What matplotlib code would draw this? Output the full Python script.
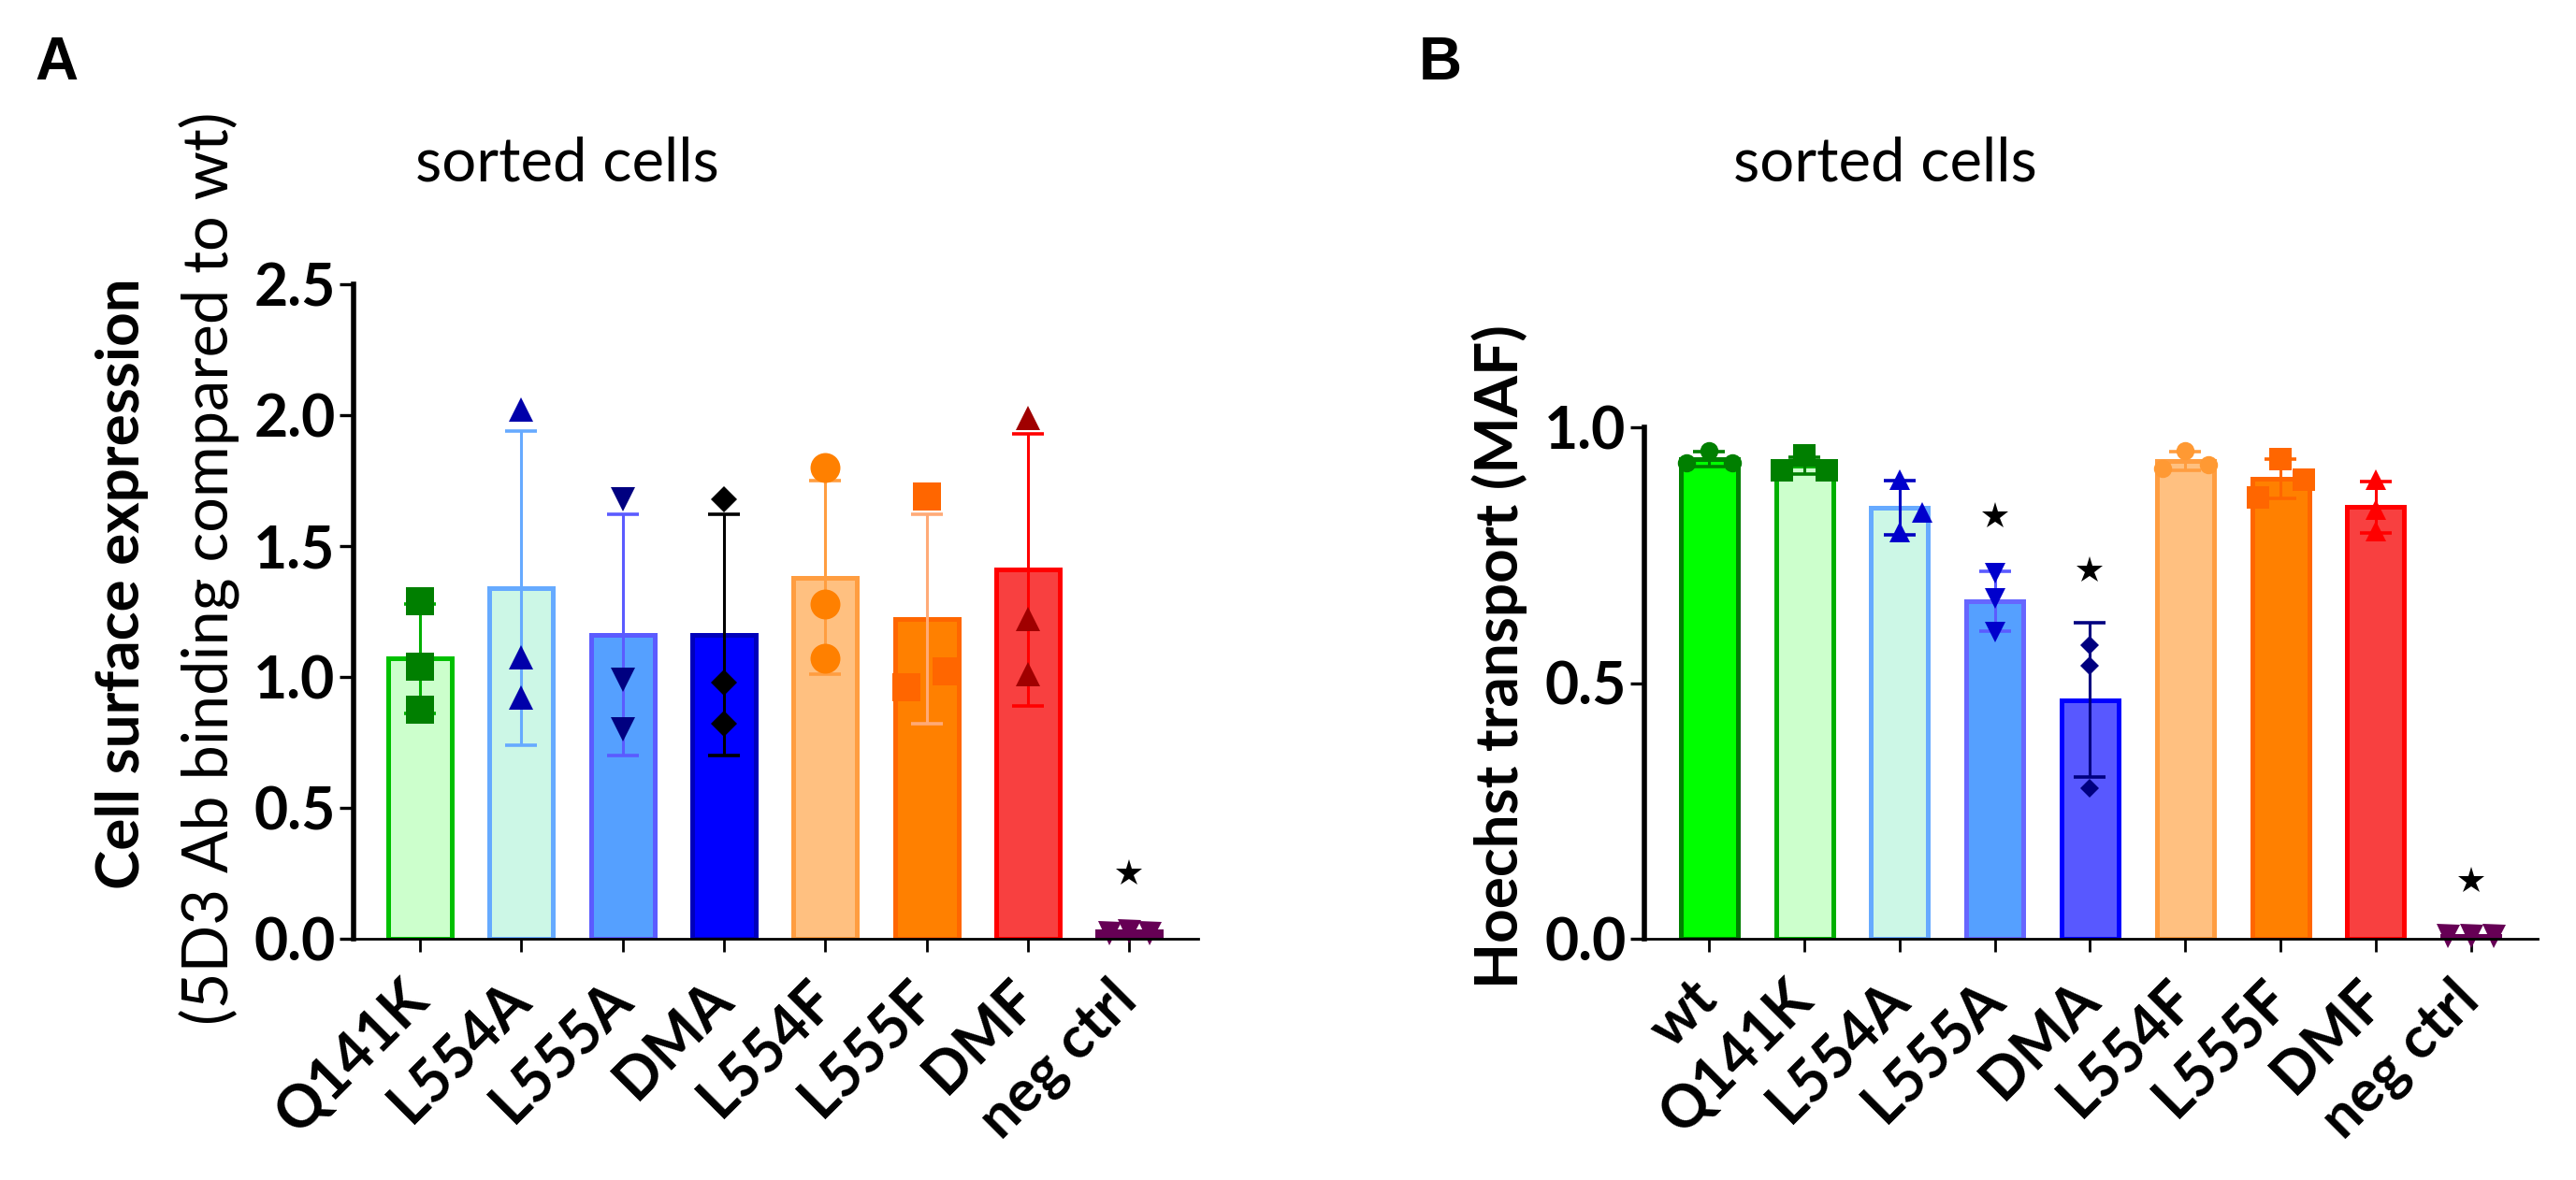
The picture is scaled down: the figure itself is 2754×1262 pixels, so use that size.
import matplotlib
matplotlib.use("Agg")
import matplotlib.pyplot as plt
import numpy as np
from matplotlib.transforms import ScaledTranslation

plt.rcParams['font.family'] = ['Lato', 'DejaVu Sans']

# ---------------- Panel A data ----------------
a_categories = ["Q141K", "L554A", "L555A", "DMA", "L554F", "L555F", "DMF", "neg ctrl"]
a_means = [1.07, 1.34, 1.16, 1.16, 1.38, 1.22, 1.41, 0.03]
a_sd = [0.21, 0.60, 0.46, 0.46, 0.37, 0.40, 0.52, 0.0]
a_points = [
    [1.29, 1.04, 0.875],
    [2.02, 1.075, 0.92],
    [1.68, 0.99, 0.80],
    [1.68, 0.98, 0.82],
    [1.80, 1.28, 1.07],
    [1.69, 1.02, 0.96],
    [1.99, 1.22, 1.01],
    [0.02, 0.03, 0.02],
]
a_star_categories = ["neg ctrl"]
a_star_values = [0.25]
a_yticks = [0.0, 0.5, 1.0, 1.5, 2.0, 2.5]
a_yticklabels = ["0.0", "0.5", "1.0", "1.5", "2.0", "2.5"]

# ---------------- Panel B data ----------------
b_categories = ["wt", "Q141K", "L554A", "L555A", "DMA", "L554F", "L555F", "DMF", "neg ctrl"]
b_means = [0.938, 0.925, 0.842, 0.66, 0.467, 0.934, 0.899, 0.844, 0.005]
b_sd = [0.015, 0.017, 0.053, 0.058, 0.151, 0.019, 0.038, 0.050, 0.0]
b_points = [
    [0.93, 0.955, 0.93],
    [0.915, 0.945, 0.915],
    [0.898, 0.834, 0.795],
    [0.715, 0.665, 0.60],
    [0.574, 0.533, 0.295],
    [0.92, 0.955, 0.927],
    [0.862, 0.937, 0.897],
    [0.897, 0.839, 0.797],
    [0.005, 0.005, 0.005],
]
b_star_categories = ["L555A", "DMA", "neg ctrl"]
b_star_values = [0.827, 0.72, 0.113]
b_yticks = [0.0, 0.5, 1.0]
b_yticklabels = ["0.0", "0.5", "1.0"]

# ---------------- Styles ----------------
a_fill = ["#CCFFCC", "#CCF7E6", "#55A0FF", "#0000FF", "#FFC080", "#FF8000", "#F84040", "#660055"]
a_edge = ["#00C000", "#66AAFF", "#5B5BFF", "#0000BB", "#FF9D40", "#FF6600", "#FF0000", "#660055"]
a_ecol = ["#00B000", "#66AAFF", "#5B5BFF", "#000000", "#FF9D40", "#FFAA77", "#FF0000", "#660055"]
a_mcol = ["#007F00", "#0000AA", "#000080", "#000000", "#FF8000", "#FF6600", "#A00000", "#660055"]
a_mark = ["s", "^", "v", "D", "o", "s", "^", "v"]
a_msize = [21, 19, 19, 14, 23, 21, 19, 18]
a_jit = [[0, 0, 0], [0, 0, 0], [0, 0, 0], [0, 0, 0], [0, 0, 0], [0, 1, -1], [0, 0, 0], [-1, 0, 1]]

b_fill = ["#00FF00", "#CCFFCC", "#CCF7E6", "#55A0FF", "#5858FF", "#FFC080", "#FF8000", "#F84040", "#660055"]
b_edge = ["#008000", "#00B000", "#66AAFF", "#6666FF", "#0000FF", "#FF9D40", "#FF6600", "#FF0000", "#660055"]
b_ecol = ["#007F00", "#007F00", "#0000C0", "#5B5BFF", "#000080", "#FF9D40", "#FF6600", "#FF0000", "#660055"]
b_mcol = ["#007F00", "#007F00", "#0000CC", "#0000CC", "#000080", "#FF9933", "#FF6600", "#FF0000", "#660055"]
b_mark = ["o", "s", "^", "v", "D", "o", "s", "^", "v"]
b_msize = [14, 17, 16, 16, 10, 14, 17, 16, 18]
b_jit = [[-1, 0, 1], [-1, 0, 1], [0, 1, 0], [0, 0, 0], [0, 0, 0], [-1, 0, 1], [-1, 0, 1], [0, 0, 0], [-1, 0, 1]]

W, H = 2754, 1262
fig = plt.figure(figsize=(W / 100, H / 100), dpi=100)

TICKFS = 45


def px_rect(left, right, bottom, top):
    return [left / W, 1 - bottom / H, (right - left) / W, (bottom - top) / H]


def draw_panel(ax, cats, means, sd, points, fill, edge, ecol, mcol, mark, msize, jit, jstep,
               barw, star_cats, star_vals, yticks, yticklabels, xlim, ylim):
    x = np.arange(len(cats))
    ax.bar(x, means, width=barw, color=fill, edgecolor=edge, linewidth=3.6, zorder=2)
    for i in range(len(cats)):
        if sd[i] > 0:
            ax.errorbar(x[i], means[i], yerr=sd[i], color=ecol[i], capsize=12,
                        elinewidth=2.2, capthick=2.6, zorder=3)
        xs = x[i] + np.array(jit[i]) * jstep
        ax.plot(xs, points[i], linestyle="none", marker=mark[i], ms=msize[i],
                color=mcol[i], markeredgewidth=0, zorder=4, clip_on=False)
    for c, v in zip(star_cats, star_vals):
        ax.plot(cats.index(c), v, marker="*", ms=21, color="black", linestyle="none",
                markeredgewidth=0, zorder=5, clip_on=False)
    ax.set_xlim(*xlim)
    ax.set_ylim(*ylim)
    for s in ["top", "right"]:
        ax.spines[s].set_visible(False)
    ax.spines["left"].set_linewidth(4)
    ax.spines["bottom"].set_linewidth(2)
    ax.spines["left"].set_zorder(6)
    ax.spines["bottom"].set_zorder(6)
    ax.set_yticks(yticks)
    ax.set_yticklabels(yticklabels, fontsize=TICKFS, fontweight="bold")
    ax.set_xticks(x)
    ax.set_xticklabels(cats, fontsize=TICKFS, fontweight="bold", rotation=45, ha="right")
    ax.tick_params(axis="x", length=10, width=2, pad=15)
    ax.tick_params(axis="y", length=11, width=2.4, pad=3)
    off = ScaledTranslation(20 / 100, 0, fig.dpi_scale_trans)
    for lab in ax.get_xticklabels():
        lab.set_transform(lab.get_transform() + off)


axA = fig.add_axes(px_rect(378, 1281, 1004, 304))
draw_panel(axA, a_categories, a_means, a_sd, a_points, a_fill, a_edge, a_ecol, a_mcol,
           a_mark, a_msize, a_jit, 0.2, 0.63, a_star_categories, a_star_values,
           a_yticks, a_yticklabels, (-0.655, 7.68), (0, 2.5))

axB = fig.add_axes(px_rect(1758, 2713, 1004, 457))
draw_panel(axB, b_categories, b_means, b_sd, b_points, b_fill, b_edge, b_ecol, b_mcol,
           b_mark, b_msize, b_jit, 0.24, 0.6, b_star_categories, b_star_values,
           b_yticks, b_yticklabels, (-0.68, 8.70), (0, 1.0))


def ftext(x, y, s, **kw):
    fig.text(x / W, 1 - y / H, s, **kw)


ftext(60, 68, "A", fontsize=46, fontweight="bold", ha="center", va="center",
      family=["Liberation Sans", "DejaVu Sans"])
ftext(1540, 68, "B", fontsize=46, fontweight="bold", ha="center", va="center",
      family=["Liberation Sans", "DejaVu Sans"])
ftext(606, 175, "sorted cells", fontsize=47, ha="center", va="center")
ftext(2015, 175, "sorted cells", fontsize=47, ha="center", va="center")
ftext(131, 624, "Cell surface expression", fontsize=46, fontweight="bold",
      rotation=90, ha="center", va="center")
ftext(224, 608, "(5D3 Ab binding compared to wt)", fontsize=48,
      rotation=90, ha="center", va="center")
ftext(1603, 702, "Hoechst transport (MAF)", fontsize=46, fontweight="bold",
      rotation=90, ha="center", va="center")

fig.savefig("out.png", dpi=100)
